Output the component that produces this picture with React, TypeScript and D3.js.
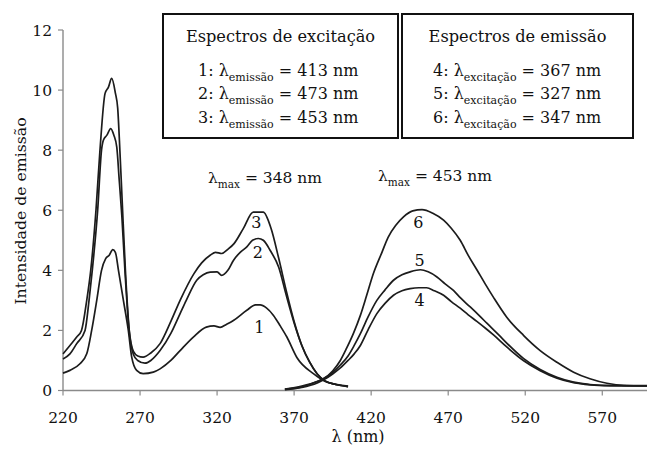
import React, { useEffect, useRef } from "react";
import * as d3 from "d3";

// excitation spectra (1, 2, 3)
const curve1Nm = [220, 224.5, 231, 235.4, 238.6, 241.9, 245, 247.7, 250, 252.3, 254, 256, 259.2, 262.4, 264.6, 267.8, 272, 278.6, 283, 290, 296, 304.6, 313, 318, 322, 326, 330.6, 339.3, 345, 348, 352, 356.6, 361, 365.3, 372, 382.5, 391, 398, 405];
const curve1Val = [0.58, 0.67, 0.89, 1.22, 2.0, 3.0, 4.0, 4.39, 4.5, 4.69, 4.6, 4.0, 3.0, 2.0, 1.11, 0.67, 0.56, 0.61, 0.72, 1.0, 1.33, 1.78, 2.11, 2.15, 2.1, 2.2, 2.33, 2.67, 2.85, 2.85, 2.75, 2.5, 2.15, 1.78, 1.08, 0.56, 0.28, 0.2, 0.15];

const curve2Nm = [220, 224.5, 228.9, 234.3, 236.9, 239, 242.5, 245, 246.2, 248.5, 251, 253, 254.9, 256.5, 258.2, 260.3, 263, 265.7, 268.5, 273.2, 277, 283, 290, 296, 300, 306.8, 311, 315.5, 320, 323, 327, 330.6, 335, 339.3, 343, 346.8, 350, 354.4, 360, 365, 370, 375, 380, 385, 390, 397, 405];
const curve2Val = [1.05, 1.22, 1.56, 2.0, 3.0, 4.0, 6.0, 8.0, 8.33, 8.5, 8.72, 8.5, 8.1, 7.0, 5.8, 3.9, 1.95, 1.2, 1.0, 0.91, 1.0, 1.33, 1.9, 2.56, 3.0, 3.67, 3.85, 3.94, 3.95, 3.83, 4.0, 4.33, 4.6, 4.78, 5.0, 5.06, 5.0, 4.67, 4.1, 3.15, 2.25, 1.5, 0.95, 0.55, 0.32, 0.2, 0.13];

const curve3Nm = [220, 224.5, 228.9, 232, 235.4, 238, 241.4, 244, 247.3, 249.5, 251.6, 254, 255.5, 257, 258.5, 260.5, 263, 265.7, 268.5, 272, 277, 283, 290, 296, 305, 310, 315.5, 319, 323, 327, 331, 337, 343.5, 350, 355, 360, 365, 370, 375, 380, 385, 390, 397, 405];
const curve3Val = [1.22, 1.5, 1.78, 2.0, 3.0, 4.0, 6.0, 8.0, 9.89, 10.1, 10.39, 9.9, 9.4, 7.9, 6.2, 4.0, 2.0, 1.3, 1.15, 1.11, 1.25, 1.56, 2.3, 3.0, 3.89, 4.25, 4.5, 4.6, 4.56, 4.7, 4.89, 5.39, 5.94, 5.94, 5.4, 4.4, 3.3, 2.3, 1.5, 0.95, 0.55, 0.32, 0.2, 0.13];

// emission spectra (4, 5, 6)
const curve4Nm = [364, 375, 385, 390, 395, 400, 405, 409, 413, 418, 423.7, 429, 434.5, 440, 445.3, 451, 456, 461, 467, 472, 477.8, 483, 488.6, 494, 499.4, 508, 519, 529.7, 540.6, 551.4, 562, 575, 600];
const curve4Val = [0.03, 0.1, 0.25, 0.38, 0.55, 0.75, 1.0, 1.22, 1.5, 2.02, 2.56, 2.9, 3.17, 3.32, 3.39, 3.42, 3.42, 3.32, 3.17, 2.96, 2.74, 2.52, 2.3, 2.08, 1.85, 1.45, 0.99, 0.66, 0.41, 0.26, 0.19, 0.16, 0.15];

const curve5Nm = [364, 375, 385, 389, 395, 400, 405, 409, 413, 418, 423.7, 429, 434.5, 440, 445.3, 452, 457, 462.7, 468, 473.4, 478, 484.3, 490, 495.1, 503.8, 508, 519, 529.7, 540.6, 551.4, 562, 575, 600];
const curve5Val = [0.04, 0.12, 0.3, 0.39, 0.6, 0.85, 1.15, 1.5, 1.89, 2.45, 3.0, 3.35, 3.67, 3.85, 3.95, 4.02, 3.95, 3.78, 3.55, 3.33, 3.08, 2.78, 2.5, 2.24, 1.8, 1.58, 1.06, 0.7, 0.44, 0.28, 0.2, 0.16, 0.15];

const curve6Nm = [364, 375, 385, 389, 395, 400, 404, 408.5, 413, 417, 421.5, 427, 431, 436, 441, 447, 453, 460, 467, 472, 477.8, 483, 488.6, 494, 499.4, 508, 519, 529.7, 540.6, 551.4, 562, 573, 584, 600];
const curve6Val = [0.05, 0.15, 0.3, 0.39, 0.65, 1.0, 1.4, 1.9, 2.5, 3.15, 3.9, 4.6, 5.1, 5.5, 5.78, 5.98, 6.02, 5.9, 5.67, 5.4, 5.0, 4.5, 4.02, 3.55, 3.1, 2.44, 1.83, 1.33, 0.94, 0.61, 0.39, 0.24, 0.17, 0.16];

const curves = [
  { nm: curve1Nm, val: curve1Val },
  { nm: curve2Nm, val: curve2Val },
  { nm: curve3Nm, val: curve3Val },
  { nm: curve4Nm, val: curve4Val },
  { nm: curve5Nm, val: curve5Val },
  { nm: curve6Nm, val: curve6Val },
];

// curve number labels, placed in data units
const labelText = ["1", "2", "3", "4", "5", "6"];
const labelNm = [347.5, 346.4, 345.5, 451.4, 451.4, 450.7];
const labelVal = [2.11, 4.61, 5.6, 3.0, 4.33, 5.61];

const xTicks = [220, 270, 320, 370, 420, 470, 520, 570];
const yTicks = [0, 2, 4, 6, 8, 10, 12];

const excNumbers = ["1", "2", "3"];
const excLambda = [413, 473, 453];
const emNumbers = ["4", "5", "6"];
const emLambda = [367, 327, 347];

// Liberation Serif is not available here, DejaVu Serif is
const FONT = "DejaVu Serif";

export default function App() {
  const ref = useRef<SVGSVGElement>(null);

  useEffect(() => {
    const svg = d3.select(ref.current);
    svg.selectAll("*").remove();

    const x = d3.scaleLinear().domain([220, 600]).range([63, 648.5]);
    const y = d3.scaleLinear().domain([0, 12]).range([390.5, 30]);

    const g = svg.append("g").attr("fill", "#111");

    const txt = (parent: any) => parent.append("text").style("font-family", FONT);

    // axes
    const axisColor = "#8a8a8a";
    g.append("line").attr("x1", x(220)).attr("x2", 647).attr("y1", y(0)).attr("y2", y(0))
      .attr("stroke", axisColor).attr("stroke-width", 1.4);
    g.append("line").attr("x1", x(220)).attr("x2", x(220)).attr("y1", y(0)).attr("y2", y(12))
      .attr("stroke", axisColor).attr("stroke-width", 1.4);

    xTicks.forEach((t) => {
      g.append("line").attr("x1", x(t)).attr("x2", x(t)).attr("y1", y(0)).attr("y2", y(0) + 5)
        .attr("stroke", axisColor).attr("stroke-width", 1.2);
      txt(g).attr("x", x(t)).attr("y", 423).attr("text-anchor", "middle")
        .attr("font-size", 15.5).text(t);
    });

    yTicks.forEach((t) => {
      g.append("line").attr("x1", x(220) - 5).attr("x2", x(220)).attr("y1", y(t)).attr("y2", y(t))
        .attr("stroke", axisColor).attr("stroke-width", 1.2);
      txt(g).attr("x", 52).attr("y", y(t) + 5.8).attr("text-anchor", "end")
        .attr("font-size", 15.5).text(t);
    });

    txt(g).attr("transform", "translate(26,211) rotate(-90)").attr("text-anchor", "middle")
      .attr("font-size", 15.7).text("Intensidade de emissão");

    txt(g).attr("x", 358).attr("y", 442).attr("text-anchor", "middle")
      .attr("font-size", 16).text("λ (nm)");

    // spectra
    const path = d3.line<[number, number]>()
      .x((d) => x(d[0]))
      .y((d) => y(d[1]))
      .curve(d3.curveMonotoneX);

    curves.forEach((c) => {
      const pts = c.nm.map((n, i) => [n, c.val[i]] as [number, number]);
      g.append("path").attr("d", path(pts)).attr("fill", "none")
        .attr("stroke", "#1c1c1c").attr("stroke-width", 1.7).attr("stroke-linejoin", "round");
    });

    labelText.forEach((t, i) => {
      txt(g).attr("x", x(labelNm[i])).attr("y", y(labelVal[i])).attr("dy", "0.36em")
        .attr("text-anchor", "middle").attr("font-size", 16).text(t);
    });

    // lambda max annotations
    const lmax = (x0: number, y0: number, val: number) => {
      const t = txt(g).attr("x", x0).attr("y", y0).attr("font-size", 15.5);
      t.append("tspan").text("λ");
      t.append("tspan").attr("dy", 5).attr("font-size", 10.5).text("max");
      t.append("tspan").attr("dy", -5).text(` = ${val} nm`);
    };
    lmax(208, 183, 348);
    lmax(378, 181, 453);

    // legend boxes
    const box = (bx: number, bw: number, title: string, nums: string[], lams: number[], sub: string, tx: number) => {
      g.append("rect").attr("x", bx).attr("y", 14).attr("width", bw).attr("height", 124)
        .attr("fill", "#fff").attr("stroke", "#111").attr("stroke-width", 2);
      txt(g).attr("x", bx + bw / 2).attr("y", 42).attr("text-anchor", "middle")
        .attr("font-size", 16.2).text(title);
      nums.forEach((n, i) => {
        const t = txt(g).attr("x", tx).attr("y", 76 + i * 23.3).attr("font-size", 16);
        t.append("tspan").text(`${n}: λ`);
        t.append("tspan").attr("dy", 5).attr("font-size", 11).text(sub);
        t.append("tspan").attr("dy", -5).text(` = ${lams[i]} nm`);
      });
    };
    box(163, 235, "Espectros de excitação", excNumbers, excLambda, "emissão", 198);
    box(402, 231, "Espectros de emissão", emNumbers, emLambda, "excitação", 433);
  }, []);

  return (
    <svg
      ref={ref}
      width={647}
      height={449}
      style={{ position: "absolute", left: 0, top: 0, background: "#fff" }}
    ></svg>
  );
}
